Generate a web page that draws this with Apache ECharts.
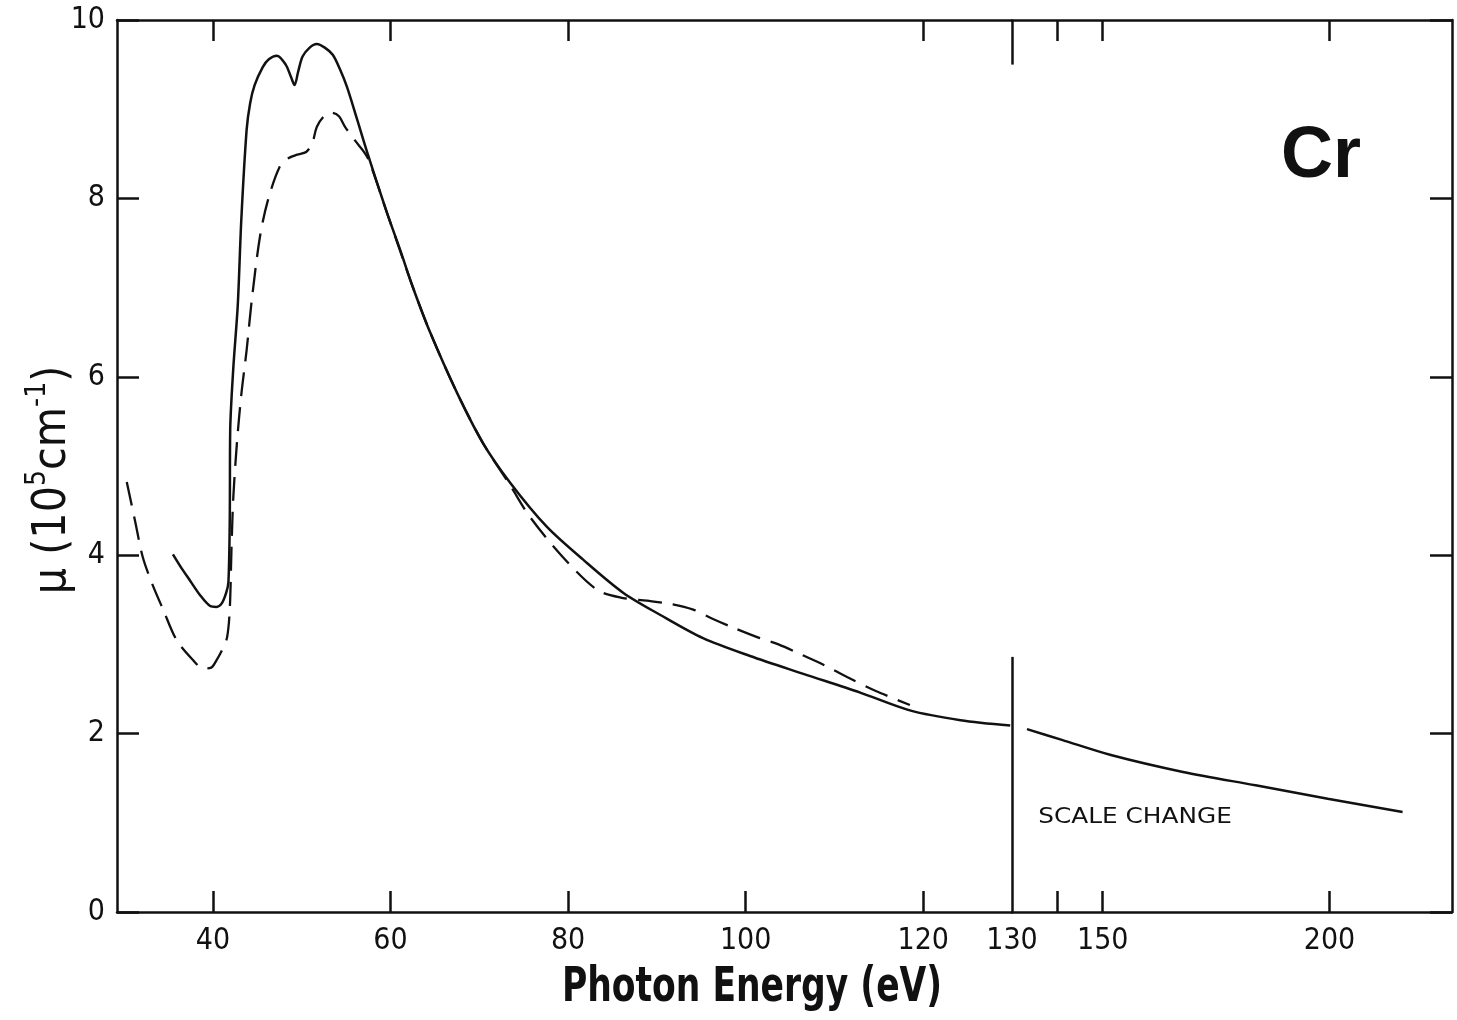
<!DOCTYPE html>
<html>
<head>
<meta charset="utf-8">
<title>Cr absorption coefficient</title>
<script src="https://cdn.jsdelivr.net/npm/echarts@6/dist/echarts.min.js"></script>
<style>
  html, body { margin: 0; padding: 0; background: #fff; }
  #chart { width: 1457px; height: 1020px; }
</style>
</head>
<body>
<div id="chart"></div>
<script>
// solid curve, linear part of the energy scale (eV, 10^5 cm^-1)
const solidE = [35.5, 36.5, 37.4, 38.5, 39.7, 40.4, 41.0, 41.5, 41.75, 41.9, 41.95, 42.3, 42.8, 43.2, 43.8, 44.2, 44.7, 45.6, 46.3, 47.2, 48.2, 48.8, 49.2, 49.6, 50.1, 50.9, 51.7, 52.6, 53.5, 54.3, 55.1, 56.2, 57.4, 59.6, 61.1, 62.5, 64.5, 67.5, 70.4, 73.5, 77.6, 81.7, 86.2, 90.4, 95.2, 100.5, 106.5, 112.9, 118.5, 124.2, 129.8];
const solidMu = [4.01, 3.85, 3.72, 3.56, 3.43, 3.42, 3.46, 3.58, 3.70, 4.40, 5.40, 6.10, 6.80, 7.76, 8.77, 9.07, 9.27, 9.47, 9.56, 9.60, 9.50, 9.36, 9.27, 9.42, 9.59, 9.69, 9.73, 9.69, 9.61, 9.45, 9.25, 8.90, 8.51, 7.84, 7.42, 7.01, 6.49, 5.82, 5.26, 4.81, 4.32, 3.95, 3.58, 3.33, 3.07, 2.87, 2.67, 2.46, 2.26, 2.15, 2.09];

// dashed curve
const dashE = [30.3, 31.2, 32.1, 33.2, 34.4, 35.9, 37.7, 38.9, 39.8, 40.45, 41.1, 41.6, 41.9, 42.1, 42.3, 42.7, 43.2, 43.8, 44.4, 45.3, 46.2, 47.5, 48.5, 49.5, 50.5, 51.2, 51.7, 52.5, 53.4, 54.2, 54.9, 56.0, 57.4, 59.6, 62.5, 64.5, 67.5, 70.4, 73.5, 75.7, 79.4, 83.3, 86.2, 88.9, 91.8, 94.1, 96.2, 98.3, 101.6, 103.7, 106.4, 108.6, 112.1, 114.6, 118.5];
const dashMu = [4.82, 4.40, 3.98, 3.67, 3.39, 3.05, 2.83, 2.73, 2.74, 2.83, 2.95, 3.08, 3.39, 4.10, 4.65, 5.25, 5.80, 6.30, 6.88, 7.57, 7.98, 8.35, 8.45, 8.49, 8.52, 8.62, 8.80, 8.92, 8.96, 8.92, 8.80, 8.65, 8.46, 7.84, 7.01, 6.49, 5.82, 5.26, 4.78, 4.43, 3.98, 3.61, 3.52, 3.49, 3.45, 3.39, 3.29, 3.20, 3.07, 3.00, 2.88, 2.78, 2.60, 2.48, 2.32];

// solid curve after the scale change
const highE = [133.3, 141, 151.8, 167.7, 183.7, 199.6, 216.1];
const highMu = [2.05, 1.93, 1.76, 1.57, 1.42, 1.27, 1.12];

// ticks and labels
const lowTicks = [40, 60, 80, 100, 120];
const lowLabels = [40, 60, 80, 100, 120, 130];
const lowTopTicks = [40, 60, 80, 120];
const highTicks = [140, 150, 200];
const highLabels = [150, 200];

const INK = '#111';
const NUM_FONT = '"DejaVu Sans Condensed", "DejaVu Sans", sans-serif';
const TITLE_FONT = '"DejaVu Sans Condensed", "DejaVu Sans", sans-serif';

function zip(xs, ys) {
    return xs.map(function (x, i) { return [x, ys[i]]; });
}

function xAxisFor(grid, min, max, pos, ticks, labels) {
    return {
        type: 'value',
        gridIndex: grid,
        position: pos,
        min: min,
        max: max,
        axisLine: { show: true, onZero: false, lineStyle: { color: INK, width: 2.5 } },
        axisTick: { show: true, inside: true, length: 21, customValues: ticks, lineStyle: { color: INK, width: 2.5 } },
        axisLabel: labels ? {
            show: true, customValues: labels, color: INK, fontSize: 30, fontFamily: NUM_FONT, margin: 14
        } : { show: false },
        splitLine: { show: false }
    };
}

function yAxisFor(grid, pos, showLabels) {
    return {
        type: 'value',
        gridIndex: grid,
        position: pos,
        min: 0,
        max: 10,
        interval: 2,
        axisLine: { show: true, lineStyle: { color: INK, width: 2.5 } },
        axisTick: { show: true, inside: true, length: 22, lineStyle: { color: INK, width: 2.5 } },
        axisLabel: { show: showLabels, color: INK, fontSize: 30, fontFamily: NUM_FONT, margin: 12 },
        splitLine: { show: false }
    };
}

const chart = echarts.init(document.getElementById('chart'), null, { renderer: 'canvas' });

const options = {
    backgroundColor: '#fff',
    animation: false,
    grid: [
        { left: 117, top: 20, width: 895, height: 892 },
        { left: 1012, top: 20, width: 440, height: 892 }
    ],
    xAxis: [
        xAxisFor(0, 29.2, 130, 'bottom', lowTicks, lowLabels),
        xAxisFor(1, 130, 227, 'bottom', highTicks, highLabels),
        xAxisFor(0, 29.2, 130, 'top', lowTopTicks, null),
        xAxisFor(1, 130, 227, 'top', highTicks, null)
    ],
    yAxis: [
        yAxisFor(0, 'left', true),
        yAxisFor(1, 'right', false)
    ],
    series: [
        {
            name: 'solid',
            type: 'line',
            xAxisIndex: 0,
            yAxisIndex: 0,
            data: zip(solidE, solidMu),
            smooth: 0.3,
            symbol: 'none',
            clip: false,
            lineStyle: { color: INK, width: 2.5 },
            markLine: {
                silent: true,
                symbol: 'none',
                label: { show: false },
                lineStyle: { color: INK, width: 2.5, type: 'solid' },
                data: [
                    [{ coord: [130, 0] }, { coord: [130, 2.86] }],
                    [{ coord: [130, 10] }, { coord: [130, 9.5] }]
                ]
            }
        },
        {
            name: 'dashed',
            type: 'line',
            xAxisIndex: 0,
            yAxisIndex: 0,
            data: zip(dashE, dashMu),
            smooth: 0.3,
            symbol: 'none',
            clip: false,
            lineStyle: { color: INK, width: 2.3, type: [24, 11] }
        },
        {
            name: 'solid high',
            type: 'line',
            xAxisIndex: 1,
            yAxisIndex: 1,
            data: zip(highE, highMu),
            smooth: 0.3,
            symbol: 'none',
            lineStyle: { color: INK, width: 2.5 }
        }
    ],
    graphic: [
        {
            type: 'text', x: 1321, y: 157,
            style: { text: 'Cr', fill: INK, fontSize: 72, fontWeight: 'bold', fontFamily: '"Liberation Sans", Arial, sans-serif', align: 'center', verticalAlign: 'middle' }
        },
        {
            type: 'text', x: 1135, y: 818, scaleX: 1.18,
            style: { text: 'SCALE CHANGE', fill: INK, fontSize: 21, fontFamily: '"DejaVu Sans", sans-serif', align: 'center', verticalAlign: 'middle' }
        },
        {
            type: 'text', x: 752, y: 989, scaleX: 0.8,
            style: { text: 'Photon Energy (eV)', fill: INK, fontSize: 48, fontWeight: 'bold', fontFamily: TITLE_FONT, align: 'center', verticalAlign: 'middle' }
        },
        {
            type: 'text', x: 50, y: 480, rotation: Math.PI / 2,
            style: {
                text: '{m|μ (10}{s|5}{m|cm}{s|-1}{m|)}',
                fill: INK,
                align: 'center',
                verticalAlign: 'middle',
                rich: {
                    m: { fontSize: 46, fontFamily: TITLE_FONT, fill: INK, verticalAlign: 'bottom', lineHeight: 52 },
                    s: { fontSize: 28, fontFamily: TITLE_FONT, fill: INK, verticalAlign: 'top', lineHeight: 52 }
                }
            }
        }
    ]
};

chart.setOption(options);
</script>
</body>
</html>
